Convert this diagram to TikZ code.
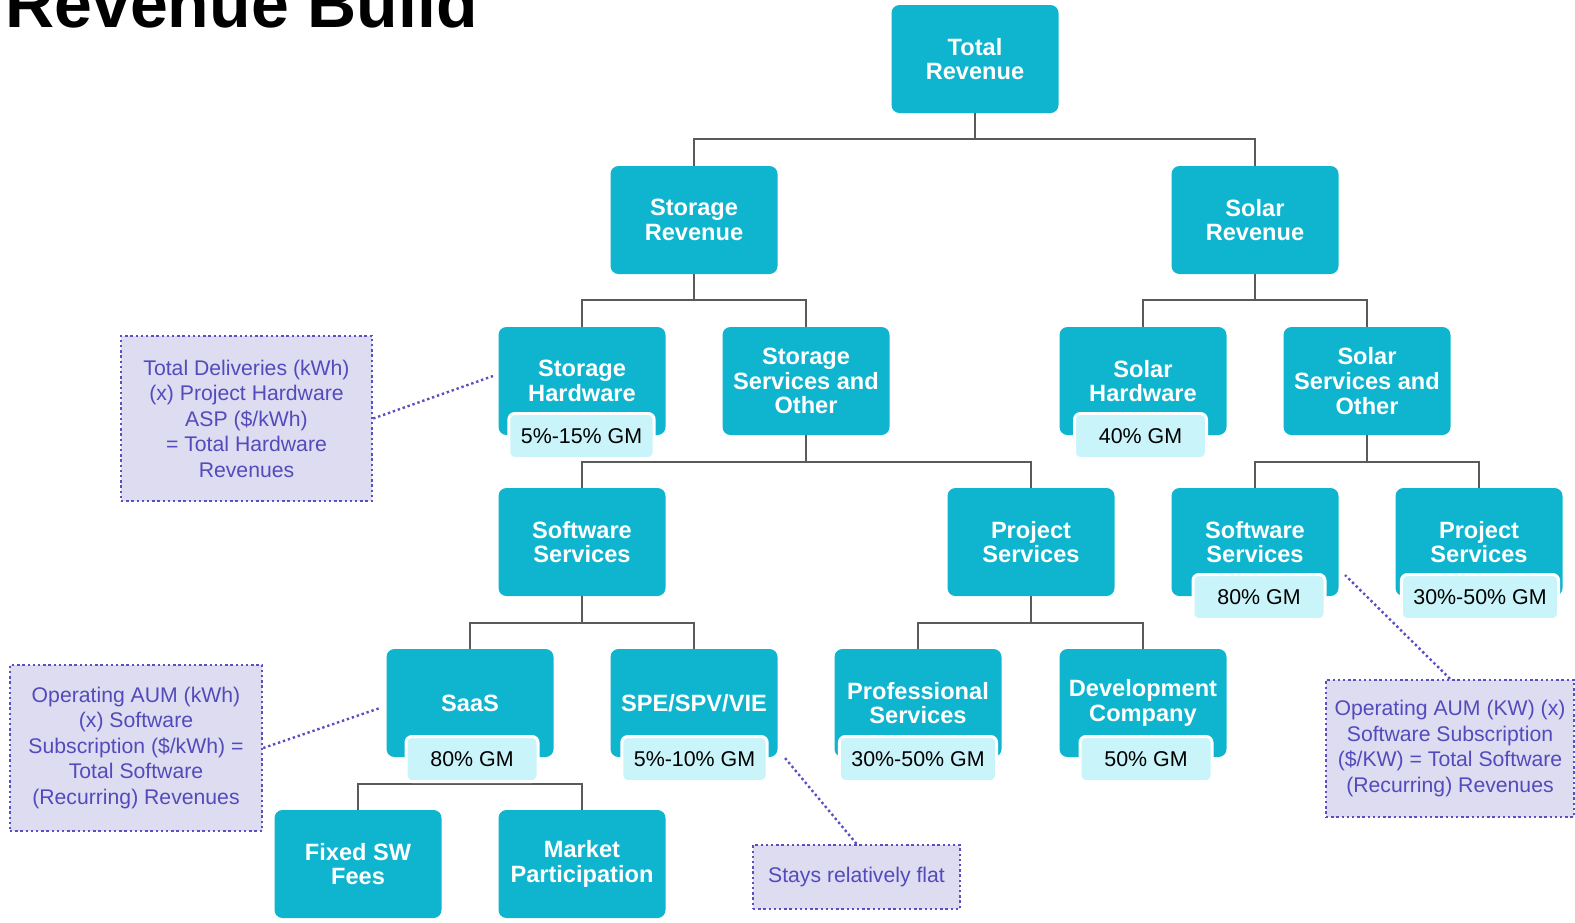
\documentclass[tikz,border=0pt]{standalone}
\usepackage{fontspec}
\setmainfont{Liberation Sans}
\usetikzlibrary{calc}
\pgfdeclarelayer{bg}
\pgfsetlayers{bg,main}
\definecolor{boxc}{HTML}{0FB5CE}
\definecolor{gmc}{HTML}{C9F4FA}
\definecolor{notec}{HTML}{DEDCF1}
\definecolor{notel}{HTML}{5A4FC0}
\definecolor{notet}{HTML}{534BBB}
\definecolor{linec}{HTML}{5A5A5A}
\begin{document}
\begin{tikzpicture}[x=0.5pt,y=-0.5pt,
 box/.style={fill=boxc, rounded corners=4pt, minimum width=83.5pt, minimum height=54pt, align=center, text=white, font=\fontsize{11.8}{12.3}\selectfont\bfseries, inner sep=2pt},
 gm/.style={fill=gmc, draw=white, line width=1.5pt, rounded corners=3pt, minimum width=66pt, minimum height=22.5pt, inner xsep=6pt, inner ysep=2pt, font=\fontsize{10.7}{12}\selectfont, text=black},
 note/.style={fill=notec, draw=notel, line width=1.2pt, dash pattern=on 1.2pt off 1.4pt, align=center, text=notet, font=\fontsize{10.6}{12.75}\selectfont, inner sep=2pt},
 conn/.style={draw=linec, line width=1.25pt},
 ndot/.style={draw=notel, line width=1.2pt, dash pattern=on 1.2pt off 1.4pt}]
\useasboundingbox (0,0) rectangle (1575,922);
\clip (0,0) rectangle (1575,922);

% title
\node[anchor=base west, inner sep=0pt, font=\fontsize{34}{36}\selectfont\bfseries] (title) at (5,27) {Revenue Build};

% bus coordinates
\coordinate (b1) at (0,139);
\coordinate (b2) at (0,300);
\coordinate (b3) at (0,462);
\coordinate (b4) at (0,623);
\coordinate (b5) at (0,784);

% boxes
\node[box] (tot) at (975,59) {Total\\Revenue};
\node[box] (str) at (694,220) {Storage\\Revenue};
\node[box] (sor) at (1255,220) {Solar\\Revenue};
\node[box] (sth) at (582,381) {Storage\\Hardware};
\node[box] (sts) at (806,381) {Storage\\Services and\\Other};
\node[box] (soh) at (1143,381) {Solar\\Hardware};
\node[box] (sos) at (1367,381) {Solar\\Services and\\Other};
\node[box] (sw1) at (582,542) {Software\\Services};
\node[box] (ps1) at (1031,542) {Project\\Services};
\node[box] (sw2) at (1255,542) {Software\\Services};
\node[box] (ps2) at (1479,542) {Project\\Services};
\node[box] (saas) at (470,703) {SaaS};
\node[box] (spe) at (694,703) {SPE/SPV/VIE};
\node[box] (prof) at (918,703) {Professional\\Services};
\node[box] (dev) at (1143,703) {Development\\Company};
\node[box] (fix) at (358,864) {Fixed SW\\Fees};
\node[box] (mkt) at (582,864) {Market\\Participation};

% GM labels
\node[gm] (g1) at (581.5,436) {5\%-15\% GM};
\node[gm] (g2) at (1140.5,436) {40\% GM};
\node[gm] (g3) at (1259,597) {80\% GM};
\node[gm] (g4) at (1480,597) {30\%-50\% GM};
\node[gm] (g5) at (472,759) {80\% GM};
\node[gm] (g6) at (694.5,759) {5\%-10\% GM};
\node[gm] (g7) at (918,759) {30\%-50\% GM};
\node[gm] (g8) at (1146,759) {50\% GM};

% tree connectors
\begin{pgfonlayer}{bg}
\draw[conn] (tot.south) -- (tot.south |- b1);
\draw[conn] (str.north) -- (str.north |- b1) -- (sor.north |- b1) -- (sor.north);
\draw[conn] (str.south) -- (str.south |- b2);
\draw[conn] (sth.north) -- (sth.north |- b2) -- (sts.north |- b2) -- (sts.north);
\draw[conn] (sor.south) -- (sor.south |- b2);
\draw[conn] (soh.north) -- (soh.north |- b2) -- (sos.north |- b2) -- (sos.north);
\draw[conn] (sts.south) -- (sts.south |- b3);
\draw[conn] (sw1.north) -- (sw1.north |- b3) -- (ps1.north |- b3) -- (ps1.north);
\draw[conn] (sos.south) -- (sos.south |- b3);
\draw[conn] (sw2.north) -- (sw2.north |- b3) -- (ps2.north |- b3) -- (ps2.north);
\draw[conn] (sw1.south) -- (sw1.south |- b4);
\draw[conn] (saas.north) -- (saas.north |- b4) -- (spe.north |- b4) -- (spe.north);
\draw[conn] (ps1.south) -- (ps1.south |- b4);
\draw[conn] (prof.north) -- (prof.north |- b4) -- (dev.north |- b4) -- (dev.north);
\draw[conn] (saas.south) -- (saas.south |- b5);
\draw[conn] (fix.north) -- (fix.north |- b5) -- (mkt.north |- b5) -- (mkt.north);
\end{pgfonlayer}

% notes
\node[note, minimum width=125.5pt, minimum height=82.5pt] (n1) at (246.5,418.5)
 {Total Deliveries (kWh)\\(x) Project Hardware\\ASP (\$/kWh)\\= Total Hardware\\Revenues};
\node[note, minimum width=126pt, minimum height=83pt] (n2) at (136,748)
 {Operating AUM (kWh)\\(x) Software\\Subscription (\$/kWh) =\\Total Software\\(Recurring) Revenues};
\node[note, minimum width=103.5pt, minimum height=32pt] (n3) at (856.5,877)
 {Stays relatively flat};
\node[note, minimum width=124pt, minimum height=68.5pt] (n4) at (1450,748.5)
 {Operating AUM (KW) (x)\\Software Subscription\\(\$/KW) = Total Software\\(Recurring) Revenues};

% note connectors
\coordinate (e1) at (493,376);
\coordinate (e2) at (380,708);
\coordinate (e3) at (785,758);
\coordinate (e4) at (1345,575);
\draw[ndot] (n1.east) -- (e1);
\draw[ndot] (n2.east) -- (e2);
\draw[ndot] (n3.north) -- (e3);
\draw[ndot] (n4.north) -- (e4);
\end{tikzpicture}
\end{document}
